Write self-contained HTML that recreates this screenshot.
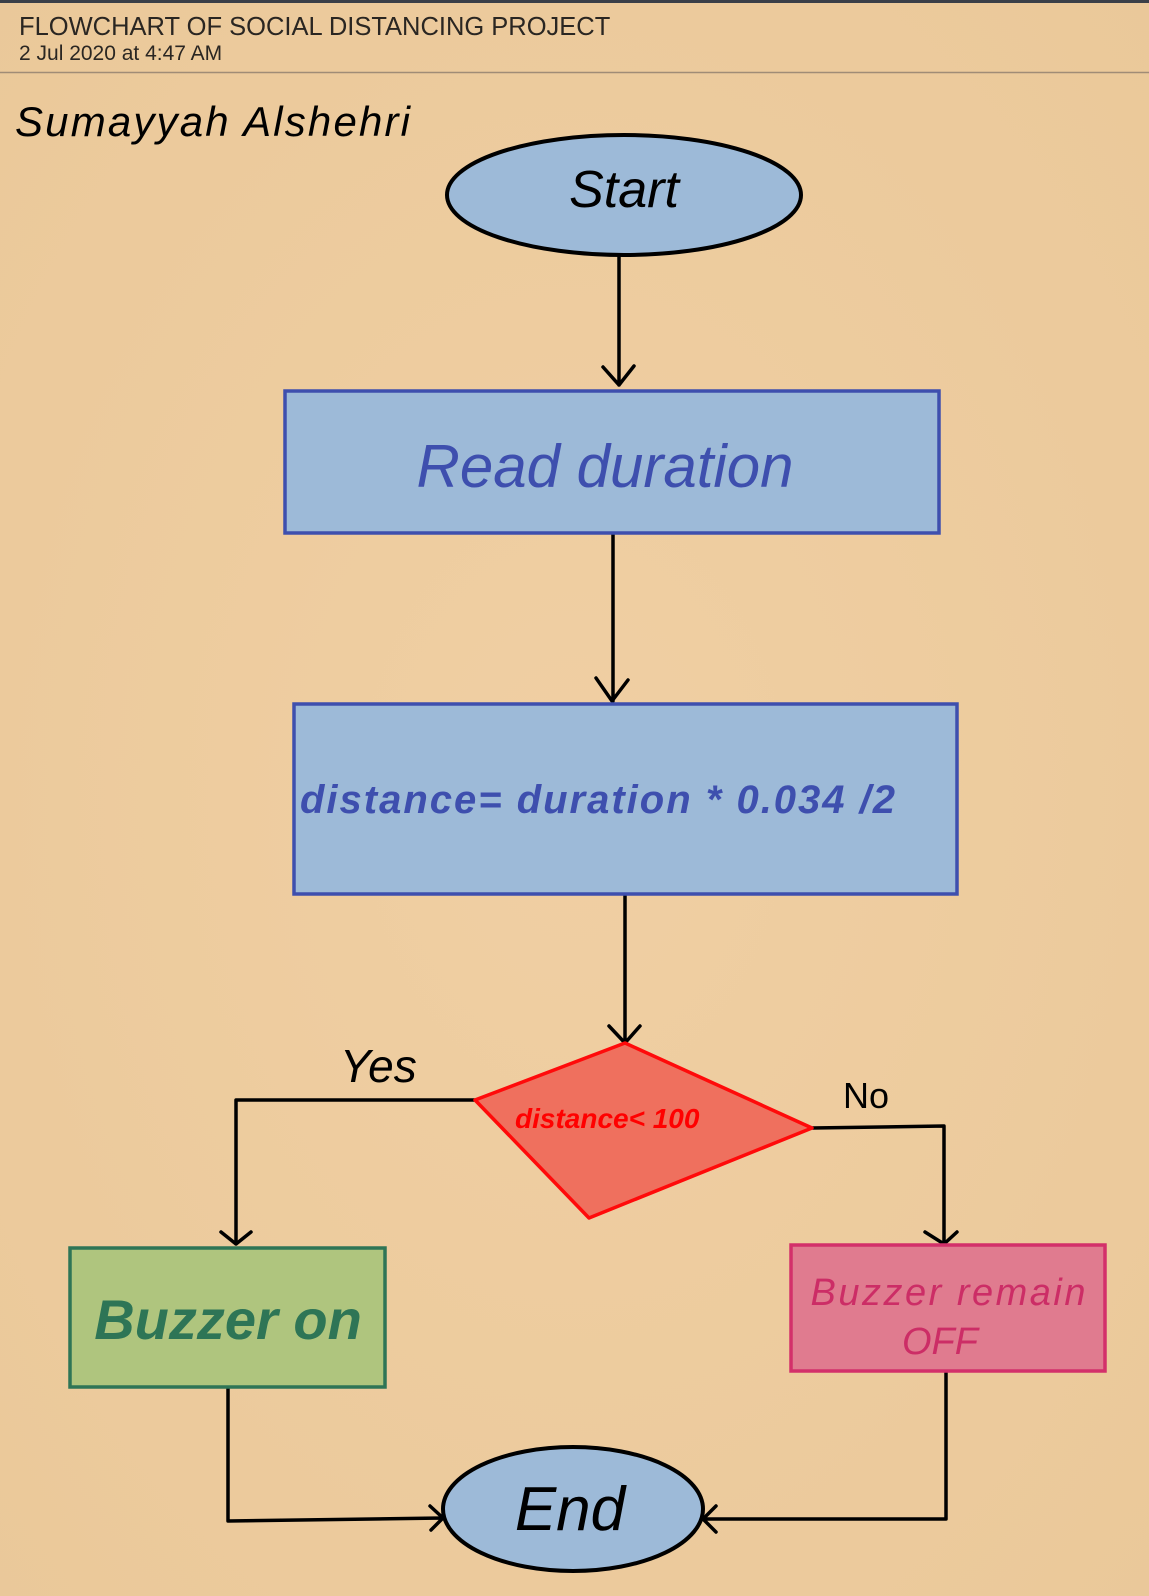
<!DOCTYPE html>
<html><head><meta charset="utf-8"><style>
html,body{margin:0;padding:0;background:#edcca0;}
svg{display:block}
</style></head><body>
<svg width="1149" height="1596" viewBox="0 0 1149 1596" xmlns="http://www.w3.org/2000/svg">
<defs>
<radialGradient id="bg" cx="50%" cy="50%" r="75%">
<stop offset="0" stop-color="#f0cfa3"/><stop offset="1" stop-color="#eac899"/>
</radialGradient>
</defs>
<rect width="1149" height="1596" fill="url(#bg)"/>
<rect width="1149" height="3" fill="#3a3f48"/>
<text x="19" y="35" font-family="Liberation Sans, sans-serif" font-size="25.5" fill="#2a2622">FLOWCHART OF SOCIAL DISTANCING PROJECT</text>
<text x="19" y="60" font-family="Liberation Sans, sans-serif" font-size="21" fill="#2a2622">2 Jul 2020 at 4:47 AM</text>
<line x1="0" y1="72.5" x2="1149" y2="72.5" stroke="#a08c76" stroke-width="1.5"/>
<text x="15" y="136" font-family="Liberation Sans, sans-serif" font-style="italic" font-size="42" fill="#000" textLength="395">Sumayyah Alshehri</text>

<g fill="none" stroke="#000" stroke-width="3.5" stroke-linecap="round" stroke-linejoin="round">
<path d="M619 256 V385 M603 367 L619 385 L634 366"/>
<path d="M613 533 V701 M596 678 L612 701 L628 680"/>
<path d="M625 894 V1043 M609 1026 L625 1043 L640 1026"/>
<path d="M475 1100 H236 V1244 M221 1232 L236 1244 L251 1232"/>
<path d="M812 1128 L944 1126 V1244 M925 1232 L944 1244 L957 1232"/>
<path d="M228 1387 V1521 L443 1518 M430 1506 L443 1518 L431 1530"/>
<path d="M946 1371 V1519 L703 1519 M716 1506 L703 1519 L716 1532"/>
</g>

<ellipse cx="624" cy="195" rx="177" ry="60" fill="#9dbad8" stroke="#000" stroke-width="4"/>
<text x="624" y="207" text-anchor="middle" font-family="Liberation Sans, sans-serif" font-style="italic" font-size="52" fill="#000">Start</text>

<rect x="285" y="391" width="654" height="142" fill="#9dbad8" stroke="#3e4fae" stroke-width="3.5"/>
<text x="605" y="487" text-anchor="middle" font-family="Liberation Sans, sans-serif" font-style="italic" font-size="60" fill="#3e4fae">Read duration</text>

<rect x="294" y="704" width="663" height="190" fill="#9dbad8" stroke="#3e4fae" stroke-width="3.5"/>
<text x="300" y="813" font-family="Liberation Sans, sans-serif" font-style="italic" font-weight="bold" font-size="40" fill="#3e4fae" textLength="595">distance= duration * 0.034 /2</text>

<polygon points="625,1043 812,1128 589,1218 475,1100" fill="#ef705e" stroke="#ff0a0a" stroke-width="3.5" stroke-linejoin="round"/>
<text x="515" y="1128" font-family="Liberation Sans, sans-serif" font-style="italic" font-weight="bold" font-size="28" fill="#f00">distance&lt; 100</text>

<text x="340" y="1082" font-family="Liberation Sans, sans-serif" font-style="italic" font-size="46" fill="#000">Yes</text>
<text x="843" y="1108" font-family="Liberation Sans, sans-serif" font-size="36" fill="#000">No</text>

<rect x="70" y="1248" width="315" height="139" fill="#afc57e" stroke="#2e7556" stroke-width="3.5"/>
<text x="228" y="1339" text-anchor="middle" font-family="Liberation Sans, sans-serif" font-style="italic" font-weight="bold" font-size="56" fill="#2e7556">Buzzer on</text>

<rect x="791" y="1245" width="314" height="126" fill="#e07b8f" stroke="#d3306a" stroke-width="3.5"/>
<text x="948" y="1305" text-anchor="middle" font-family="Liberation Sans, sans-serif" font-style="italic" font-size="38" fill="#cc2d66" textLength="275">Buzzer remain</text>
<text x="940" y="1354" text-anchor="middle" font-family="Liberation Sans, sans-serif" font-style="italic" font-size="38" fill="#cc2d66">OFF</text>

<ellipse cx="573" cy="1509" rx="130" ry="62" fill="#9dbad8" stroke="#000" stroke-width="4"/>
<text x="570" y="1530" text-anchor="middle" font-family="Liberation Sans, sans-serif" font-style="italic" font-size="62" fill="#000">End</text>
</svg>
</body></html>
